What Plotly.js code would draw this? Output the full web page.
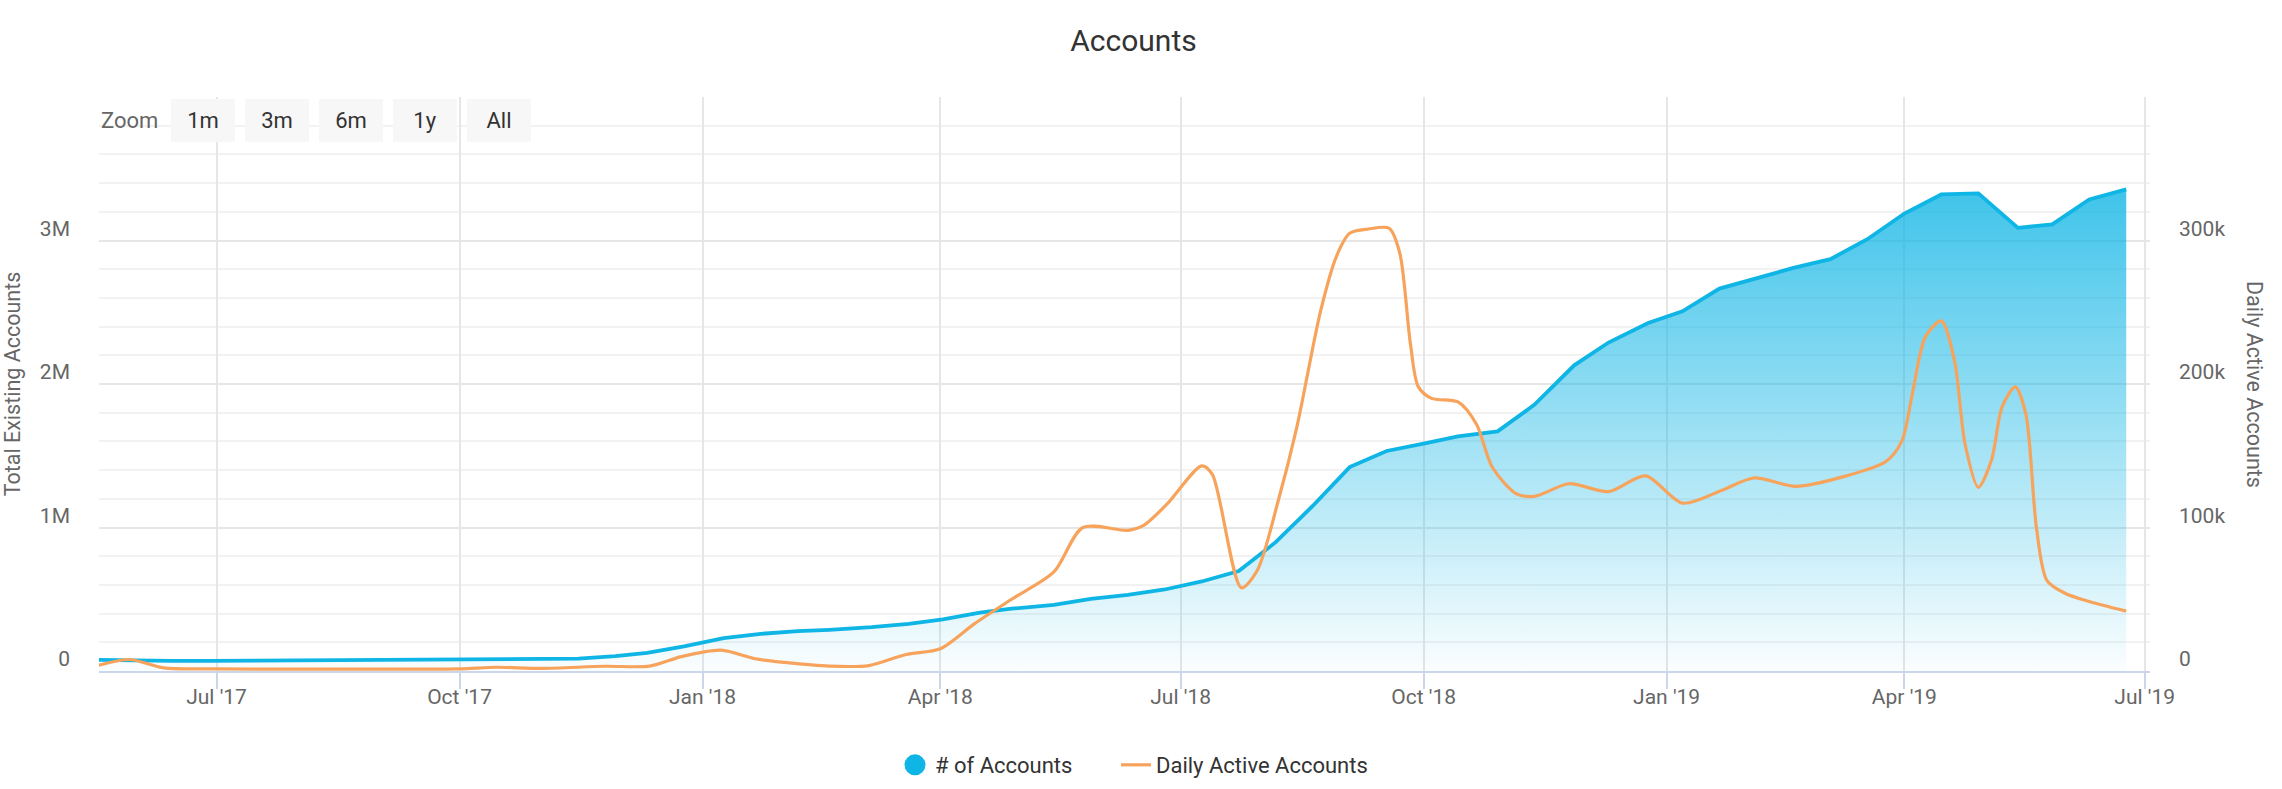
<!DOCTYPE html>
<html>
<head>
<meta charset="utf-8">
<script src="https://cdn.plot.ly/plotly-3.0.1.min.js"></script>
<style>html,body{margin:0;padding:0;background:#fff;}#chart{width:2282px;height:789px;}</style>
</head>
<body>
<div id="chart"></div>
<script>
// ---- data ----
const accountDates = [
  '2017-05-17','2017-05-31','2017-06-14','2017-06-28','2017-07-12','2017-07-26','2017-08-09','2017-08-23',
  '2017-09-06','2017-09-20','2017-10-04','2017-10-18','2017-11-01','2017-11-15','2017-11-29','2017-12-11',
  '2017-12-25','2018-01-09','2018-01-23','2018-02-06','2018-02-18','2018-03-06','2018-03-20','2018-04-02',
  '2018-04-16','2018-04-28','2018-05-14','2018-05-28','2018-06-11','2018-06-25','2018-07-09','2018-07-23',
  '2018-08-06','2018-08-20','2018-09-03','2018-09-17','2018-10-01','2018-10-14','2018-10-29','2018-11-12',
  '2018-11-27','2018-12-10','2018-12-25','2019-01-07','2019-01-21','2019-02-03','2019-02-18','2019-03-04',
  '2019-03-18','2019-04-01','2019-04-15','2019-04-29','2019-05-14','2019-05-27','2019-06-10','2019-06-24'
];
const accountTotals = [
  78000,72000,70000,70000,71000,72000,73000,74000,
  75000,76000,78000,79000,81000,86000,103000,127000,
  171000,229000,259000,278000,287000,305000,329000,359000,
  406000,434000,461000,503000,531000,568000,624000,696000,
  898000,1150000,1421000,1533000,1584000,1635000,1670000,1856000,
  2130000,2289000,2425000,2507000,2665000,2730000,2809000,2870000,
  3009000,3188000,3321000,3328000,3088000,3112000,3286000,3356000
];
const activeDates = [
  '2017-05-17','2017-05-29','2017-06-11','2017-07-01','2017-08-01','2017-09-01','2017-10-01','2017-10-15',
  '2017-11-01','2017-11-25','2017-12-12','2017-12-24','2018-01-08','2018-01-21','2018-02-01','2018-02-18',
  '2018-03-05','2018-03-19','2018-04-01','2018-04-14','2018-04-28','2018-05-14','2018-05-25','2018-06-11',
  '2018-06-17','2018-06-26','2018-07-09','2018-07-13','2018-07-24','2018-07-30','2018-08-07','2018-08-14',
  '2018-08-23','2018-08-29','2018-09-03','2018-09-10','2018-09-18','2018-09-22','2018-09-26','2018-09-29',
  '2018-10-04','2018-10-14','2018-10-21','2018-10-27','2018-11-05','2018-11-12','2018-11-25','2018-12-10',
  '2018-12-24','2019-01-07','2019-01-22','2019-02-03','2019-02-19','2019-03-10','2019-03-25','2019-03-31',
  '2019-04-04','2019-04-09','2019-04-15','2019-04-20','2019-04-24','2019-04-29','2019-05-04','2019-05-08',
  '2019-05-13','2019-05-17','2019-05-21','2019-05-25','2019-06-01','2019-06-09','2019-06-24'
];
const activeValues = [
  3800,8000,2200,1500,1300,1300,1500,2600,
  1800,3300,3400,10000,14500,8500,6000,3400,
  3800,11500,15500,33000,50000,69000,100000,98000,
  101500,116600,143000,137000,58000,70000,119000,170000,
  251000,289000,305000,308000,308500,291000,228000,198000,
  190000,187500,172000,142000,123600,121700,130500,125000,
  136000,117000,126000,134500,128700,136000,146000,160000,
  193000,233000,244000,216000,158000,128000,147000,184000,
  198000,179000,100000,63000,54000,49000,41700
];
const leftTickVals = [0, 1000000, 2000000, 3000000, 4000000];
const leftTickText = ['0', '1M', '2M', '3M', ''];
const rightTickVals = [0, 100000, 200000, 300000];
const rightTickText = ['0', '100k', '200k', '300k'];
const zoomButtons = ['1m', '3m', '6m', '1y', 'All'];

// ---- styling ----
const BLUE = '#0fb5e5';
const ORANGE = '#f7a35c';
const FONT = 'Roboto, sans-serif';
const W = 2282, H = 789;
const M = {l: 99, r: 132, t: 97, b: 118};
const PW = W - M.l - M.r, PH = H - M.t - M.b;
const px2x = p => (p - M.l) / PW;
const px2y = p => (H - M.b - p) / PH;

const maxTotal = Math.max(...accountTotals);

const traces = [
  {
    x: accountDates, y: accountTotals, name: '# of Accounts', type: 'scatter', mode: 'lines',
    line: {color: BLUE, width: 3.8}, fill: 'tozeroy',
    fillgradient: {type: 'vertical', start: 0, stop: maxTotal,
      colorscale: [[0, 'rgba(15,181,229,0.02)'], [1, 'rgba(15,181,229,0.8)']]},
    showlegend: false, legendgroup: 'acc', yaxis: 'y', hoverinfo: 'x+y'
  },
  {
    x: [null], y: [null], name: '# of Accounts', type: 'scatter', mode: 'markers',
    marker: {color: BLUE, size: 16, line: {color: BLUE, width: 5}},
    legendgroup: 'acc', showlegend: true, legend: 'legend', yaxis: 'y', hoverinfo: 'skip'
  },
  {
    x: activeDates, y: activeValues, name: 'Daily Active Accounts', type: 'scatter', mode: 'lines',
    line: {color: ORANGE, width: 3.2, shape: 'spline', smoothing: 0.8},
    legend: 'legend2', yaxis: 'y2'
  }
];

const annotations = [];
annotations.push({
  text: 'Zoom', xref: 'paper', yref: 'paper', x: 0, y: px2y(120), xanchor: 'left', yanchor: 'middle',
  showarrow: false, font: {family: FONT, size: 22, color: '#666666'}
});
zoomButtons.forEach((b, i) => {
  annotations.push({
    text: b, xref: 'paper', yref: 'paper', x: px2x(203 + i * 74), y: px2y(120),
    xanchor: 'center', yanchor: 'middle', showarrow: false, width: 64, height: 43,
    borderpad: 0, borderwidth: 0, bgcolor: '#f7f7f7',
    font: {family: FONT, size: 22, color: '#333333'}
  });
});
annotations.push({
  text: 'Daily Active Accounts', xref: 'paper', yref: 'paper', x: px2x(2255), y: 0.5,
  xanchor: 'center', yanchor: 'middle', textangle: 90, showarrow: false,
  font: {family: FONT, size: 21.5, color: '#666666'}
});

const legendBase = {
  orientation: 'h', xref: 'paper', yref: 'container', y: 1 - 765 / H, yanchor: 'middle', xanchor: 'left',
  font: {family: FONT, size: 22, color: '#333333'}, bgcolor: 'rgba(0,0,0,0)', borderwidth: 0
};

const layout = {
  width: W, height: H,
  margin: M,
  paper_bgcolor: '#ffffff', plot_bgcolor: '#ffffff',
  font: {family: FONT, color: '#666666'},
  title: {text: 'Accounts', font: {family: FONT, size: 30, color: '#333333'},
          xref: 'paper', x: px2x(1133.5), xanchor: 'center', yref: 'container', y: 1 - 40 / H, yanchor: 'middle'},
  xaxis: {
    type: 'date', range: ['2017-05-17 12:00', '2019-07-03'],
    tick0: '2017-01-01', dtick: 'M3', tickformat: "%b '%y",
    showgrid: true, gridcolor: '#e6e6e6', gridwidth: 2,
    ticks: 'outside', ticklen: 16, tickwidth: 2, tickcolor: '#ccd6eb',
    ticklabelstandoff: -10,
    showline: true, linecolor: '#ccd6eb', linewidth: 2, zeroline: false,
    tickfont: {family: FONT, size: 21, color: '#666666'}
  },
  yaxis: {
    range: [0, 4000000], tickmode: 'array', tickvals: leftTickVals, ticktext: leftTickText,
    showgrid: true, gridcolor: '#e6e6e6', gridwidth: 2, zeroline: false, ticks: '',
    minor: {tickmode: 'linear', tick0: 0, dtick: 200000, showgrid: true, gridcolor: '#f2f2f2', gridwidth: 2, ticks: ''},
    ticklabelstandoff: 28, ticklabelshift: -12,
    tickfont: {family: FONT, size: 21, color: '#666666'},
    title: {text: 'Total Existing Accounts', font: {family: FONT, size: 21.5, color: '#666666'}, standoff: 14}
  },
  yaxis2: {
    overlaying: 'y', side: 'right', range: [0, 400000],
    tickmode: 'array', tickvals: rightTickVals, ticktext: rightTickText,
    showgrid: false, zeroline: false, ticks: '',
    ticklabelstandoff: 28, ticklabelshift: -12,
    tickfont: {family: FONT, size: 21, color: '#666666'}
  },
  legend: Object.assign({}, legendBase, {x: px2x(895)}),
  legend2: Object.assign({}, legendBase, {x: px2x(1116)}),
  annotations: annotations,
  showlegend: true
};

Plotly.newPlot('chart', traces, layout, {displayModeBar: false, responsive: false});
</script>
</body>
</html>
